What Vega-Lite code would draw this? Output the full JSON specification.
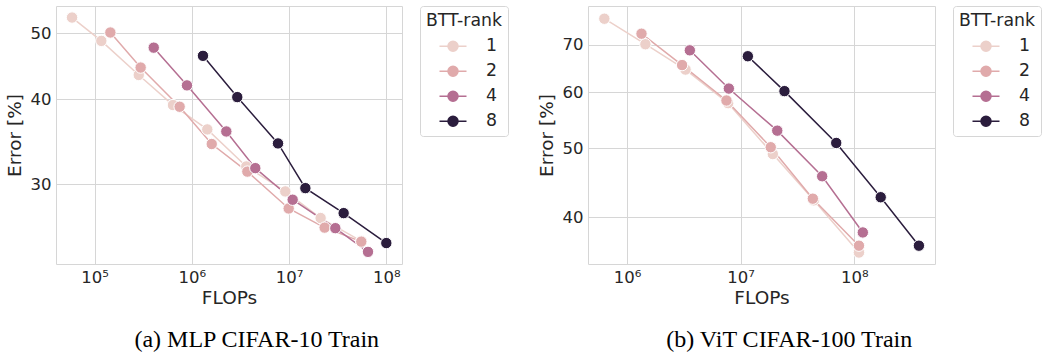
{
  "$schema": "https://vega.github.io/schema/vega-lite/v6.json",
  "padding": {"left": 4, "top": 5, "right": 0, "bottom": 0},
  "background": "white",
  "datasets": {
    "mlp": [
      {"rank": 1, "flops": 58500, "error": 52.7},
      {"rank": 1, "flops": 117000, "error": 48.7},
      {"rank": 1, "flops": 284000, "error": 43.4},
      {"rank": 1, "flops": 639000, "error": 39.2},
      {"rank": 1, "flops": 1440000, "error": 36.1},
      {"rank": 1, "flops": 3630000, "error": 31.85},
      {"rank": 1, "flops": 9140000, "error": 29.27},
      {"rank": 1, "flops": 21100000, "error": 26.75},
      {"rank": 1, "flops": 55300000, "error": 24.75},
      {"rank": 2, "flops": 145000, "error": 50.1},
      {"rank": 2, "flops": 297000, "error": 44.5},
      {"rank": 2, "flops": 748000, "error": 38.98},
      {"rank": 2, "flops": 1600000, "error": 34.36},
      {"rank": 2, "flops": 3720000, "error": 31.3},
      {"rank": 2, "flops": 9900000, "error": 27.63},
      {"rank": 2, "flops": 23200000, "error": 25.9},
      {"rank": 2, "flops": 55300000, "error": 24.7},
      {"rank": 4, "flops": 405000, "error": 47.6},
      {"rank": 4, "flops": 890000, "error": 41.9},
      {"rank": 4, "flops": 2260000, "error": 35.85},
      {"rank": 4, "flops": 4490000, "error": 31.67},
      {"rank": 4, "flops": 10880000, "error": 28.46},
      {"rank": 4, "flops": 29900000, "error": 25.85},
      {"rank": 4, "flops": 64800000, "error": 23.86},
      {"rank": 8, "flops": 1300000, "error": 46.3},
      {"rank": 8, "flops": 2930000, "error": 40.27},
      {"rank": 8, "flops": 7690000, "error": 34.43},
      {"rank": 8, "flops": 14700000, "error": 29.6},
      {"rank": 8, "flops": 36400000, "error": 27.2},
      {"rank": 8, "flops": 100000000, "error": 24.58}
    ],
    "vit": [
      {"rank": 1, "flops": 631000, "error": 76.1},
      {"rank": 1, "flops": 1450000, "error": 70.07},
      {"rank": 1, "flops": 3270000, "error": 64.55},
      {"rank": 1, "flops": 7760000, "error": 57.9},
      {"rank": 1, "flops": 19200000, "error": 49.1},
      {"rank": 1, "flops": 44100000, "error": 42.27},
      {"rank": 1, "flops": 110000000, "error": 35.7},
      {"rank": 2, "flops": 1340000, "error": 72.5},
      {"rank": 2, "flops": 3050000, "error": 65.5},
      {"rank": 2, "flops": 7500000, "error": 58.4},
      {"rank": 2, "flops": 18400000, "error": 50.2},
      {"rank": 2, "flops": 43200000, "error": 42.5},
      {"rank": 2, "flops": 110000000, "error": 36.5},
      {"rank": 4, "flops": 3570000, "error": 68.7},
      {"rank": 4, "flops": 7870000, "error": 60.7},
      {"rank": 4, "flops": 21000000, "error": 52.97},
      {"rank": 4, "flops": 52200000, "error": 45.7},
      {"rank": 4, "flops": 119000000, "error": 38.1},
      {"rank": 8, "flops": 11570000, "error": 67.4},
      {"rank": 8, "flops": 24300000, "error": 60.2},
      {"rank": 8, "flops": 69400000, "error": 50.9},
      {"rank": 8, "flops": 171000000, "error": 42.7},
      {"rank": 8, "flops": 371000000, "error": 36.5}
    ]
  },
  "config": {
    "font": "DejaVu Sans",
    "view": {"stroke": "#d6d6d6", "strokeWidth": 1},
    "axis": {
      "domain": false,
      "ticks": false,
      "grid": true,
      "gridColor": "#d6d6d6",
      "gridWidth": 1,
      "labelFont": "DejaVu Sans",
      "labelFontSize": 16.5,
      "labelColor": "#262626",
      "titleFont": "DejaVu Sans",
      "titleFontSize": 18.5,
      "titleFontWeight": "normal",
      "titleColor": "#262626"
    },
    "legend": {
      "titleFont": "DejaVu Sans",
      "titleFontSize": 17.3,
      "titleFontWeight": "normal",
      "titleColor": "#262626",
      "titlePadding": 6,
      "labelFont": "DejaVu Sans",
      "labelFontSize": 17.3,
      "labelColor": "#262626",
      "strokeColor": "#d6d6d6",
      "cornerRadius": 3,
      "padding": 6,
      "offset": 18,
      "rowPadding": 5,
      "symbolType": "M-1.35,0H1.35M0.5,0A0.5,0.5,0,1,1,-0.5,0A0.5,0.5,0,1,1,0.5,0Z",
      "symbolSize": 400,
      "symbolStrokeWidth": 1.5,
      "symbolOffset": 16,
      "labelOffset": 22
    },
    "title": {
      "font": "Liberation Serif",
      "fontSize": 24,
      "fontWeight": "normal",
      "color": "black"
    }
  },
  "spacing": 27,
  "hconcat": [
    {
      "width": 346,
      "height": 258,
      "title": {"text": "(a) MLP CIFAR-10 Train", "orient": "bottom", "frame": "bounds", "anchor": "middle", "offset": 21},
      "data": {"name": "mlp"},
      "encoding": {
        "x": {"field": "flops", "type": "quantitative", "title": "FLOPs",
              "scale": {"type": "log", "domain": [40000, 145000000], "nice": false},
              "axis": {"values": [100000, 1000000, 10000000, 100000000], "labelPadding": 5, "titlePadding": 3,
                       "labelExpr": "datum.value == 100000 ? '10⁵' : datum.value == 1000000 ? '10⁶' : datum.value == 10000000 ? '10⁷' : '10⁸'"}},
        "y": {"field": "error", "type": "quantitative", "title": "Error [%]",
              "scale": {"type": "log", "domain": [22.9, 54.8], "nice": false},
              "axis": {"values": [30, 40, 50], "labelPadding": 5, "titlePadding": 6}},
        "color": {"field": "rank", "type": "ordinal", "title": "BTT-rank",
                  "scale": {"domain": [1, 2, 4, 8], "range": ["#ecd0ca", "#e0aaab", "#b56f92", "#2b1d3d"]}}
      },
      "layer": [
        {"mark": {"type": "line", "strokeWidth": 1.5}},
        {"mark": {"type": "point", "filled": true, "size": 130, "opacity": 1, "stroke": "white", "strokeWidth": 1}}
      ]
    },
    {
      "width": 347,
      "height": 258,
      "title": {"text": "(b) ViT CIFAR-100 Train", "orient": "bottom", "frame": "bounds", "anchor": "middle", "offset": 21},
      "data": {"name": "vit"},
      "encoding": {
        "x": {"field": "flops", "type": "quantitative", "title": "FLOPs",
              "scale": {"type": "log", "domain": [453000, 514000000], "nice": false},
              "axis": {"values": [1000000, 10000000, 100000000], "labelPadding": 5, "titlePadding": 3,
                       "labelExpr": "datum.value == 1000000 ? '10⁶' : datum.value == 10000000 ? '10⁷' : '10⁸'"}},
        "y": {"field": "error", "type": "quantitative", "title": "Error [%]",
              "scale": {"type": "log", "domain": [34.4, 79.3], "nice": false},
              "axis": {"values": [40, 50, 60, 70], "labelPadding": 5, "titlePadding": 6}},
        "color": {"field": "rank", "type": "ordinal", "title": "BTT-rank",
                  "scale": {"domain": [1, 2, 4, 8], "range": ["#ecd0ca", "#e0aaab", "#b56f92", "#2b1d3d"]}}
      },
      "layer": [
        {"mark": {"type": "line", "strokeWidth": 1.5}},
        {"mark": {"type": "point", "filled": true, "size": 130, "opacity": 1, "stroke": "white", "strokeWidth": 1}}
      ]
    }
  ],
  "resolve": {"scale": {"color": "independent", "x": "independent", "y": "independent"}, "legend": {"color": "independent"}}
}
